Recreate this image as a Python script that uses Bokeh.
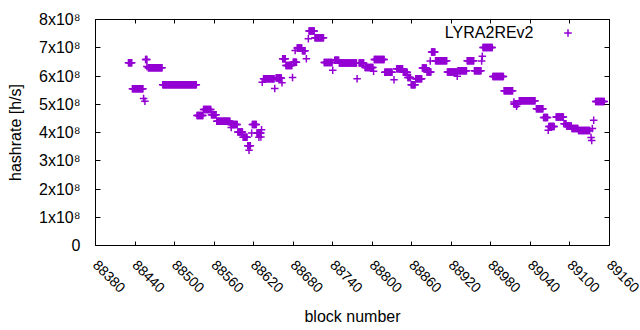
import math
from bokeh.plotting import figure
from bokeh.models import Range1d, FixedTicker, LinearAxis, Label, Legend, LegendItem
from bokeh.embed import file_html
from bokeh.resources import INLINE

# Run-length encoded data: block ranges (inclusive) with constant hashrate (x1e8 h/s)
run_start = [88430, 88436, 88453, 88455, 88456, 88458, 88460, 88482, 88534, 88544,
             88556, 88564, 88585, 88586, 88596, 88604, 88611, 88613, 88617, 88618,
             88625, 88628, 88631, 88632, 88633, 88635, 88652, 88654, 88663, 88664,
             88669, 88679, 88680, 88683, 88686, 88694, 88700, 88703, 88704, 88713,
             88727, 88740, 88743, 88750, 88777, 88780, 88789, 88802, 88803, 88819,
             88833, 88837, 88847, 88854, 88859, 88866, 88876, 88883, 88888, 88890,
             88896, 88914, 88929, 88930, 88944, 88955, 88966, 88967, 88968, 88983,
             89000, 89015, 89015, 89019, 89023, 89049, 89060, 89067, 89068, 89079,
             89091, 89095, 89103, 89113, 89132, 89133, 89134, 89136, 89139]
run_end = [88435, 88452, 88453, 88455, 88458, 88458, 88481, 88533, 88543, 88555,
           88563, 88584, 88595, 88586, 88603, 88610, 88615, 88613, 88617, 88624,
           88631, 88628, 88631, 88632, 88633, 88651, 88652, 88662, 88663, 88668,
           88678, 88679, 88685, 88683, 88693, 88698, 88700, 88703, 88712, 88726,
           88739, 88740, 88749, 88776, 88777, 88787, 88801, 88802, 88818, 88830,
           88833, 88846, 88853, 88858, 88865, 88875, 88882, 88889, 88888, 88895,
           88913, 88928, 88929, 88943, 88954, 88965, 88966, 88967, 88982, 88999,
           89013, 89015, 89021, 89019, 89047, 89059, 89066, 89067, 89076, 89090,
           89094, 89102, 89112, 89130, 89132, 89133, 89134, 89136, 89152]
run_value = [6.47, 5.55, 5.20, 5.11, 6.58, 6.34, 6.29, 5.69, 4.60, 4.81,
             4.63, 4.40, 4.28, 4.18, 4.02, 3.83, 3.53, 3.37, 3.98, 4.28,
             3.98, 3.83, 3.84, 4.10, 5.78, 5.90, 5.56, 5.93, 5.76, 6.61,
             6.37, 5.95, 6.49, 6.90, 6.99, 6.89, 6.61, 7.32, 7.59, 7.35,
             6.48, 6.20, 6.56, 6.46, 5.90, 6.46, 6.30, 6.17, 6.58, 6.13,
             5.87, 6.26, 6.13, 5.95, 5.69, 5.90, 6.28, 6.14, 6.53, 6.85,
             6.54, 6.14, 5.99, 6.19, 6.54, 6.19, 6.53, 6.70, 7.01, 5.98,
             5.48, 5.08, 5.01, 4.93, 5.12, 4.84, 4.53, 4.08, 4.21, 4.55,
             4.31, 4.23, 4.14, 4.07, 3.82, 3.72, 4.14, 4.43, 5.10]

series_name = "LYRA2REv2"
x_ticks = [88380, 88440, 88500, 88560, 88620, 88680, 88740, 88800,
           88860, 88920, 88980, 89040, 89100, 89160]
x_tick_labels = [str(t) for t in x_ticks]
y_ticks = [0, 1e8, 2e8, 3e8, 4e8, 5e8, 6e8, 7e8, 8e8]
y_tick_labels = ["0", "1x10\u2078", "2x10\u2078", "3x10\u2078", "4x10\u2078",
                 "5x10\u2078", "6x10\u2078", "7x10\u2078", "8x10\u2078"]

xs, ys = [], []
for s, e, v in zip(run_start, run_end, run_value):
    for b in range(s, e + 1):
        xs.append(b)
        ys.append(v * 1e8)

FONT = "Liberation Sans"
COLOR = "#9400D3"

p = figure(width=640, height=330, output_backend="svg", toolbar_location=None,
           x_range=Range1d(88380, 89160), y_range=Range1d(0, 8e8),
           min_border_left=95, min_border_right=31, min_border_top=19,
           min_border_bottom=85)
p.grid.visible = False
p.outline_line_color = "black"
p.outline_line_width = 1
p.background_fill_color = "white"
p.border_fill_color = "white"

xa = p.xaxis[0]
xa.ticker = FixedTicker(ticks=x_ticks)
xa.major_label_overrides = {t: l for t, l in zip(x_ticks, x_tick_labels)}
xa.major_label_orientation = -math.pi / 4
xa.major_label_text_font = FONT
xa.major_label_text_font_size = "14px"
xa.major_label_text_color = "black"
xa.major_label_standoff = 17
xa.major_tick_in = 4
xa.major_tick_out = 0
xa.minor_tick_line_color = None
xa.axis_line_color = None
xa.axis_label = "block number"
xa.axis_label_standoff = 8
xa.axis_label_text_font = FONT
xa.axis_label_text_font_size = "16px"
xa.axis_label_text_font_style = "normal"
xa.axis_label_text_color = "black"

ya = p.yaxis[0]
ya.ticker = FixedTicker(ticks=y_ticks)
ya.major_label_overrides = {t: l for t, l in zip(y_ticks, y_tick_labels)}
ya.axis_label = "hashrate [h/s]"
ya.axis_line_color = None
ya.major_tick_in = 5
ya.major_tick_out = 0
ya.minor_tick_line_color = None
ya.major_label_text_font = FONT
ya.major_label_text_font_size = "16px"
ya.major_label_text_color = "black"
ya.major_label_standoff = 15
ya.axis_label_text_font = FONT
ya.axis_label_text_font_size = "16px"
ya.axis_label_text_font_style = "normal"
ya.axis_label_text_color = "black"
ya.axis_label_standoff = 12

ra = LinearAxis(ticker=FixedTicker(ticks=y_ticks), axis_line_color=None,
                major_tick_in=5, major_tick_out=0, minor_tick_line_color=None,
                major_label_overrides={t: "" for t in y_ticks},
                major_label_text_font_size="0px", major_label_standoff=0)
p.add_layout(ra, "right")
ta = LinearAxis(ticker=FixedTicker(ticks=x_ticks), axis_line_color=None,
                major_tick_in=4, major_tick_out=0, minor_tick_line_color=None,
                major_label_overrides={t: "" for t in x_ticks},
                major_label_text_font_size="0px", major_label_standoff=0)
p.add_layout(ta, "above")

r = p.scatter(xs, ys, marker="cross", size=7.5, line_color=COLOR, line_width=1.5)

legend = Legend(items=[LegendItem(label=" ", renderers=[r])], location=(462.8, 203.2),
                padding=0, spacing=0, margin=0, glyph_width=19, glyph_height=19,
                label_standoff=0, label_width=0, label_height=19,
                label_text_font_size="1px", border_line_color=None,
                background_fill_alpha=0)
p.add_layout(legend)

p.add_layout(Label(x=438, y=213, x_units="screen", y_units="screen", text=series_name,
                   text_align="right", text_baseline="alphabetic", text_font=FONT,
                   text_font_size="16px", text_color="black"))

open("out.html", "w").write(file_html(p, INLINE))
